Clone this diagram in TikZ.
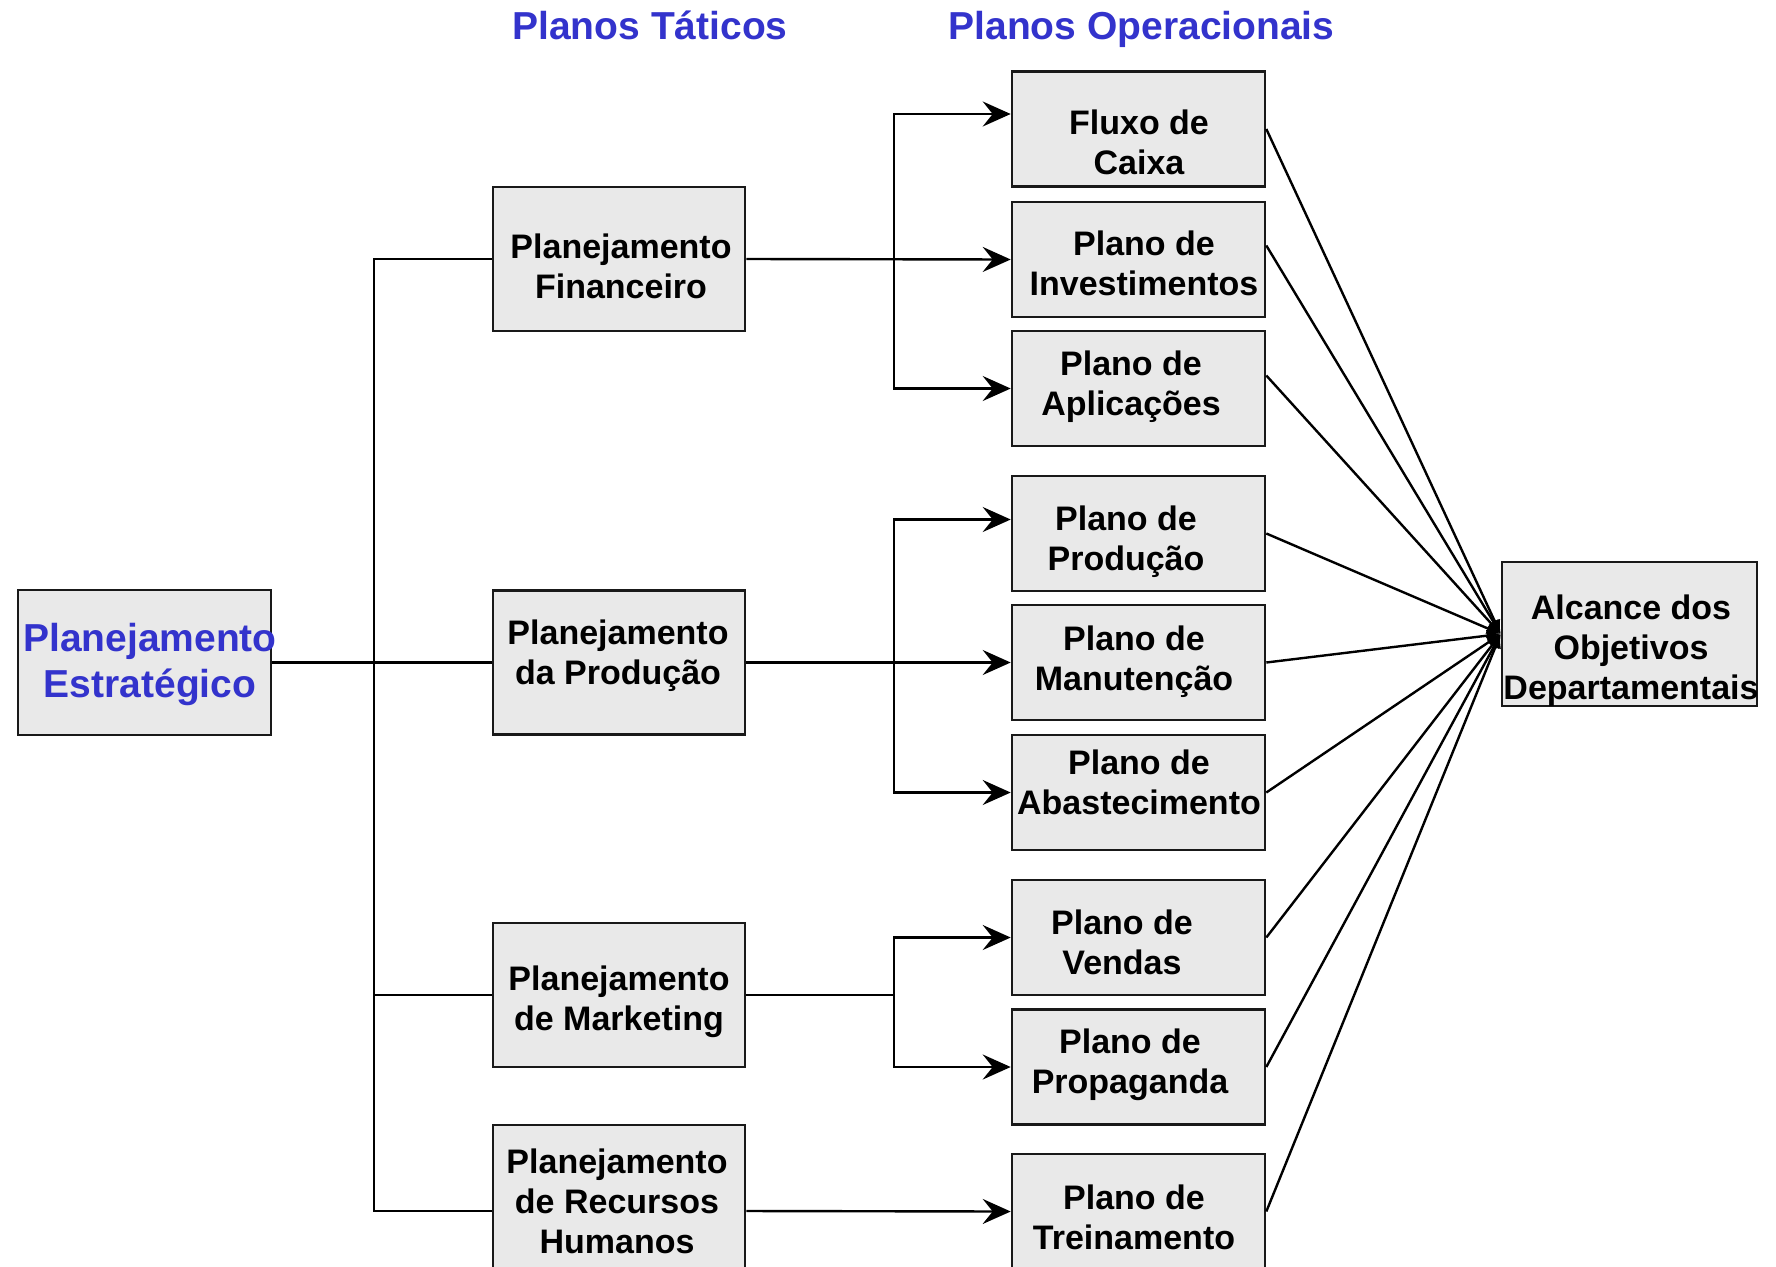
\documentclass[tikz,border=0pt]{standalone}
\usepackage{fontspec}
\setmainfont{Liberation Sans}
\usetikzlibrary{arrows.meta}
\definecolor{titleblue}{RGB}{51,51,204}
\definecolor{boxgray}{RGB}{233,233,233}
\tikzset{every picture/.style={line width=2.4pt}}

\begin{document}
\begin{tikzpicture}[x=1pt,y=1pt,yscale=-1,xscale=1,
  plan/.style={draw=black!90,line width=2.6pt,fill=boxgray,inner sep=0pt},
  tat/.style={plan,minimum width=252pt,minimum height=144pt},
  op/.style={plan,minimum width=253pt,minimum height=115pt},
  txt/.style={inner sep=0pt,align=center,font=\fontsize{34}{40}\selectfont\bfseries},
  head/.style={text=titleblue,text height=30pt,text depth=9pt,font=\fontsize{39}{46}\selectfont\bfseries},
  seta/.style={-{Stealth[length=28pt,width=25pt,inset=10pt]}},
  meta/.style={-{Latex[length=14pt,width=12pt]}}]
\useasboundingbox (0,0) rectangle (1776,1266);

% Text Node
\node [head] (titTat) at (650,29) {Planos Táticos};
% Text Node
\node [head] (titOp) at (1141.5,29) {Planos Operacionais};

%Shape: Rectangle
\node [plan,minimum width=253pt,minimum height=145pt] (estr) at (144.5,662.5) {};
% Text Node
\node [txt,text=titleblue,font=\fontsize{39}{46}\selectfont\bfseries] (estrT) at (150,664) {Planejamento\\Estratégico};

%Shape: Rectangle
\node [tat] (fin) at (619,259) {};
\node [tat] (prod) at (619,662.5) {};
\node [tat] (mkt) at (619,995) {};
\node [tat] (rh) at (619,1197) {};
% Text Node
\node [txt] (finT) at (621,266.5) {Planejamento\\Financeiro};
\node [txt] (prodT) at (618,656) {Planejamento\\da Produção};
\node [txt] (mktT) at (619,1002) {Planejamento\\de Marketing};
\node [txt] (rhT) at (617,1201) {Planejamento\\de Recursos\\Humanos};

%Shape: Rectangle
\node [op] (fluxo) at (1138.5,129) {};
\node [op] (invest) at (1138.5,259.5) {};
\node [op] (aplic) at (1138.5,388.5) {};
\node [op] (producao) at (1138.5,533.5) {};
\node [op] (manut) at (1138.5,662.5) {};
\node [op] (abast) at (1138.5,792.5) {};
\node [op] (vendas) at (1138.5,937.5) {};
\node [op] (propag) at (1138.5,1067) {};
\node [op] (trein) at (1138.5,1211.5) {};
% Text Node
\node [txt] (fluxoT) at (1139,142) {Fluxo de\\Caixa};
\node [txt] (investT) at (1144,263) {Plano de\\Investimentos};
\node [txt] (aplicT) at (1131,386.5) {Plano de\\Aplicações};
\node [txt] (producaoT) at (1126,542) {Plano de\\Produção};
\node [txt] (manutT) at (1134,662) {Plano de\\Manutenção};
\node [txt] (abastT) at (1139,782) {Plano de\\Abastecimento};
\node [txt] (vendasT) at (1122,942) {Plano de\\Vendas};
\node [txt] (propagT) at (1130,1064.5) {Plano de\\Propaganda};
\node [txt] (treinT) at (1134,1217) {Plano de\\Treinamento};

%Shape: Rectangle
\node [plan,minimum width=255pt,minimum height=144pt] (alcance) at (1629.5,634) {};
% Text Node
\node [txt] (alcanceT) at (1631,650.5) {Alcance dos\\Objetivos\\Departamentais};

% bus points
\coordinate (bus) at (374,662.5);
\coordinate (busFin) at (894,259);
\coordinate (busProd) at (894,662.5);
\coordinate (busMkt) at (894,995);

%Straight Lines
\draw (estr.east) -- (prod.west);
\draw (fin.west) -| (bus) |- ([yshift=14pt]rh.west);
\draw (mkt.west) -- (mkt.west -| bus);

%Straight Lines
\draw [seta] (fin.east) -- (invest.west);
\draw [seta] (busFin) |- ([yshift=-15pt]fluxo.west);
\draw [seta] (busFin) |- (aplic.west);
\draw [seta] (prod.east) -- (manut.west);
\draw [seta] (busProd) |- ([yshift=-14pt]producao.west);
\draw [seta] (busProd) |- (abast.west);
\draw (mkt.east) -- (busMkt);
\draw [seta] (busMkt) |- (vendas.west);
\draw [seta] (busMkt) |- (propag.west);
\draw [seta] ([yshift=14pt]rh.east) -- (trein.west);

%Straight Lines
\draw [meta] (fluxo.east) -- (alcance.west);
\draw [meta] ([yshift=-14pt]invest.east) -- (alcance.west);
\draw [meta] ([yshift=-13pt]aplic.east) -- (alcance.west);
\draw [meta] (producao.east) -- (alcance.west);
\draw [meta] (manut.east) -- (alcance.west);
\draw [meta] (abast.east) -- (alcance.west);
\draw [meta] (vendas.east) -- (alcance.west);
\draw [meta] (propag.east) -- (alcance.west);
\draw [meta] (trein.east) -- (alcance.west);

\end{tikzpicture}
\end{document}
